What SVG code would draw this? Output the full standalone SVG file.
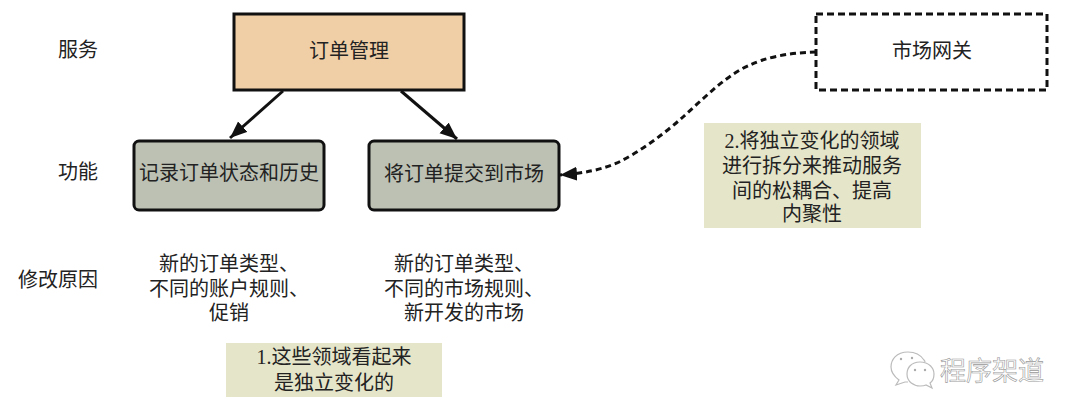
<svg xmlns="http://www.w3.org/2000/svg" width="1080" height="419" viewBox="0 0 1080 419">
<style>
text{font-family:"Liberation Serif","Noto Sans CJK SC",serif;font-size:20px;fill:#222;text-anchor:middle}
.box{stroke:#111;stroke-width:3}
.fn{fill:#bcc1b4}
.note{fill:#e5e5c9}
.conn{fill:none;stroke:#111;stroke-width:3}
.wm{font-size:26px;fill:#fff;stroke:#999;stroke-width:.6;text-anchor:start}
.bub{fill:#fff;stroke:#bbb;stroke-width:1.2}
</style>
<defs>
<marker id="ah" markerUnits="userSpaceOnUse" markerWidth="20" markerHeight="16" refX="17" refY="7" orient="auto"><path d="M0 0L17 7L0 14Z" fill="#111"/></marker>
</defs>
<rect width="1080" height="419" fill="#fff"/>
<g id="connectors">
<path class="conn" d="M283 91L230 138" marker-end="url(#ah)"/>
<path class="conn" d="M401 91L457 139" marker-end="url(#ah)"/>
<path class="conn" stroke-dasharray="6 4" d="M816 52C785 53 765 58 750 65C728 74 705 97 683 117C665 133 640 152 617 163C600 170 585 173 560 175" marker-end="url(#ah)"/>
</g>
<g id="label-service"><text x="78" y="57">服务</text></g>
<g id="label-function"><text x="78" y="179">功能</text></g>
<g id="label-reason"><text x="58" y="287">修改原因</text></g>
<g id="order-mgmt"><rect class="box" x="234" y="14" width="230" height="76" fill="#f0cfa6"/><text x="349" y="58">订单管理</text></g>
<g id="gateway"><rect x="816" y="14" width="231" height="76" fill="#fff" stroke="#111" stroke-width="3" stroke-dasharray="7 4"/><text x="932" y="58">市场网关</text></g>
<g id="record"><rect class="box fn" x="134" y="141" width="190" height="69" rx="5"/><text x="229" y="180">记录订单状态和历史</text></g>
<g id="submit"><rect class="box fn" x="369" y="141" width="190" height="69" rx="5"/><text x="464" y="181">将订单提交到市场</text></g>
<g id="reason1"><text x="229" y="271">新的订单类型、</text><text x="229" y="296">不同的账户规则、</text><text x="229" y="320">促销</text></g>
<g id="reason2"><text x="464" y="271">新的订单类型、</text><text x="464" y="296">不同的市场规则、</text><text x="464" y="320">新开发的市场</text></g>
<g id="note1"><rect class="note" x="226" y="343" width="216" height="54"/><text x="334" y="364">1.这些领域看起来</text><text x="334" y="390">是独立变化的</text></g>
<g id="note2"><rect class="note" x="704" y="123" width="217" height="105"/><text x="812" y="148">2.将独立变化的领域</text><text x="812" y="173">进行拆分来推动服务</text><text x="812" y="198">间的松耦合、提高</text><text x="812" y="221">内聚性</text></g>
<g id="watermark">
<path class="bub" d="M908 352C896 352 891 360 891 367C891 373 895 377 899 380L896 385L905 382C906 382 907 382 908 382"/>
<path class="bub" d="M908 352C914 352 920 354 924 360C925 361 925 362 925 362"/>
<path class="bub" d="M920 362C911 362 907 368 907 374C907 382 914 386 920 386C922 386 924 386 926 385L932 388L930 383C933 381 934 378 934 374C934 368 929 362 920 362Z"/>
<circle cx="901" cy="359" r="1.2" fill="#aaa"/><circle cx="912" cy="358" r="1.2" fill="#aaa"/><circle cx="915" cy="370" r="1.2" fill="#aaa"/><circle cx="925" cy="370" r="1.2" fill="#aaa"/>
<text class="wm" x="940" y="380">程序架道</text>
</g>
</svg>
